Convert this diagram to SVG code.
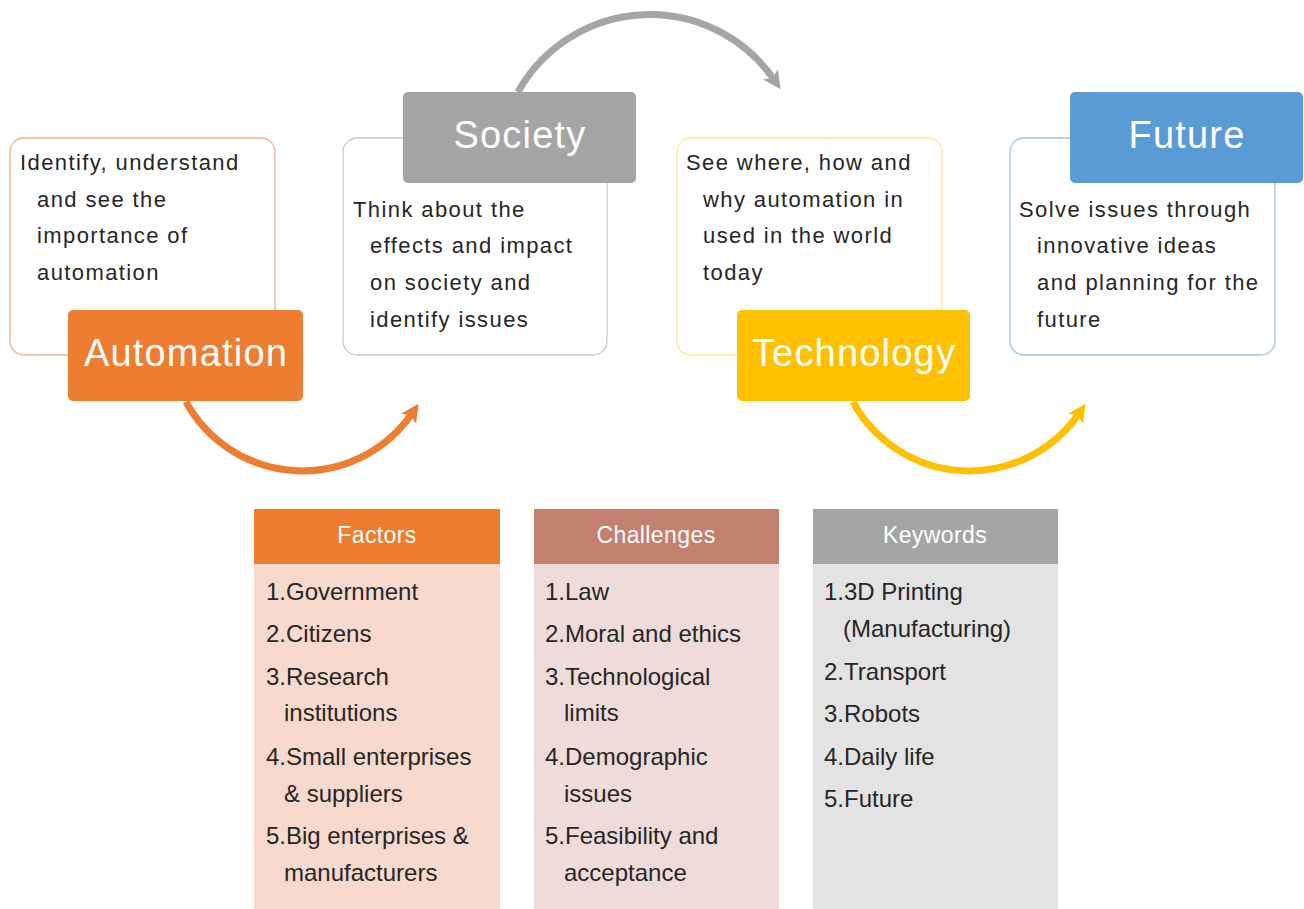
<svg xmlns="http://www.w3.org/2000/svg" width="1304" height="909" viewBox="0 0 1304 909">
<style>
.box{fill:#fff;stroke-width:1.3}
.desc{font-family:"Liberation Sans",Arial,sans-serif;font-size:22px;letter-spacing:1.4px;fill:#262626}
.lbl{font-family:"Liberation Sans",Arial,sans-serif;font-size:38px;letter-spacing:1.2px;fill:#fff;text-anchor:middle}
.hdr{font-family:"Liberation Sans",Arial,sans-serif;font-size:23px;letter-spacing:0.4px;fill:#fff;text-anchor:middle}
.item{font-family:"Liberation Sans",Arial,sans-serif;font-size:24px;fill:#262626}
.arc{fill:none;stroke-width:7}
</style>
<defs>
<marker id="ahO" viewBox="0 0 18 18" markerWidth="18" markerHeight="18" refX="8" refY="9" orient="auto" markerUnits="userSpaceOnUse"><path d="M0,0 L18,9 L0,18 L4,9 z" fill="#ED7D31"/></marker>
<marker id="ahG" viewBox="0 0 18 18" markerWidth="18" markerHeight="18" refX="8" refY="9" orient="auto" markerUnits="userSpaceOnUse"><path d="M0,0 L18,9 L0,18 L4,9 z" fill="#A5A5A5"/></marker>
<marker id="ahY" viewBox="0 0 18 18" markerWidth="18" markerHeight="18" refX="8" refY="9" orient="auto" markerUnits="userSpaceOnUse"><path d="M0,0 L18,9 L0,18 L4,9 z" fill="#FFC000"/></marker>
</defs>
<rect width="1304" height="909" fill="#fff"/>

<g id="connectors">
<path class="arc" d="M 186 402 A 133 133 0 0 0 413 412" stroke="#ED7D31" marker-end="url(#ahO)"/>
<path class="arc" d="M 518 92 A 151 151 0 0 1 775 81" stroke="#A5A5A5" stroke-width="6" marker-end="url(#ahG)"/>
<path class="arc" d="M 853 402 A 133 133 0 0 0 1080 412" stroke="#FFC000" marker-end="url(#ahY)"/>
</g>

<g id="automation">
<rect class="box" x="10" y="138" width="265" height="217" rx="14" stroke="#F4B183"/>
<text class="desc" x="20" y="170">Identify, understand</text>
<text class="desc" x="37" y="207">and see the</text>
<text class="desc" x="37" y="243">importance of</text>
<text class="desc" x="37" y="280">automation</text>
<rect x="68" y="310" width="235" height="91" rx="5" fill="#ED7D31"/>
<text class="lbl" x="186" y="366">Automation</text>
</g>

<g id="society">
<rect class="box" x="343" y="138" width="264" height="217" rx="14" stroke="#C9C9C9"/>
<text class="desc" x="353" y="217">Think about the</text>
<text class="desc" x="370" y="253">effects and impact</text>
<text class="desc" x="370" y="290">on society and</text>
<text class="desc" x="370" y="327">identify issues</text>
<rect x="403" y="92" width="233" height="91" rx="5" fill="#A5A5A5"/>
<text class="lbl" x="520" y="148">Society</text>
</g>

<g id="technology">
<rect class="box" x="677" y="138" width="265" height="217" rx="14" stroke="#FFE699"/>
<text class="desc" x="686" y="170">See where, how and</text>
<text class="desc" x="703" y="207">why automation in</text>
<text class="desc" x="703" y="243">used in the world</text>
<text class="desc" x="703" y="280">today</text>
<rect x="737" y="310" width="233" height="91" rx="5" fill="#FFC000"/>
<text class="lbl" x="854" y="366">Technology</text>
</g>

<g id="future">
<rect class="box" x="1010" y="138" width="265" height="217" rx="14" stroke="#9DC3E6"/>
<text class="desc" x="1019" y="217">Solve issues through</text>
<text class="desc" x="1037" y="253">innovative ideas</text>
<text class="desc" x="1037" y="290">and planning for the</text>
<text class="desc" x="1037" y="327">future</text>
<rect x="1070" y="92" width="233" height="91" rx="5" fill="#5B9BD5"/>
<text class="lbl" x="1187" y="148">Future</text>
</g>

<g id="factors">
<rect x="254" y="564" width="246" height="345" fill="#F8D9CD"/>
<rect x="254" y="509" width="246" height="55" fill="#ED7D31"/>
<text class="hdr" x="377" y="543">Factors</text>
<text class="item" x="266" y="600">1.Government</text>
<text class="item" x="266" y="642">2.Citizens</text>
<text class="item" x="266" y="685">3.Research</text>
<text class="item" x="284" y="721">institutions</text>
<text class="item" x="266" y="765">4.Small enterprises</text>
<text class="item" x="284" y="802">&amp; suppliers</text>
<text class="item" x="266" y="844">5.Big enterprises &amp;</text>
<text class="item" x="284" y="881">manufacturers</text>
</g>

<g id="challenges">
<rect x="534" y="564" width="245" height="345" fill="#EFDCDA"/>
<rect x="534" y="509" width="245" height="55" fill="#C4806F"/>
<text class="hdr" x="656" y="543">Challenges</text>
<text class="item" x="545" y="600">1.Law</text>
<text class="item" x="545" y="642">2.Moral and ethics</text>
<text class="item" x="545" y="685">3.Technological</text>
<text class="item" x="564" y="721">limits</text>
<text class="item" x="545" y="765">4.Demographic</text>
<text class="item" x="564" y="802">issues</text>
<text class="item" x="545" y="844">5.Feasibility and</text>
<text class="item" x="564" y="881">acceptance</text>
</g>

<g id="keywords">
<rect x="813" y="564" width="245" height="345" fill="#E3E3E3"/>
<rect x="813" y="509" width="245" height="55" fill="#A5A5A5"/>
<text class="hdr" x="935" y="543">Keywords</text>
<text class="item" x="824" y="600">1.3D Printing</text>
<text class="item" x="843" y="637">(Manufacturing)</text>
<text class="item" x="824" y="680">2.Transport</text>
<text class="item" x="824" y="722">3.Robots</text>
<text class="item" x="824" y="765">4.Daily life</text>
<text class="item" x="824" y="807">5.Future</text>
</g>
</svg>
